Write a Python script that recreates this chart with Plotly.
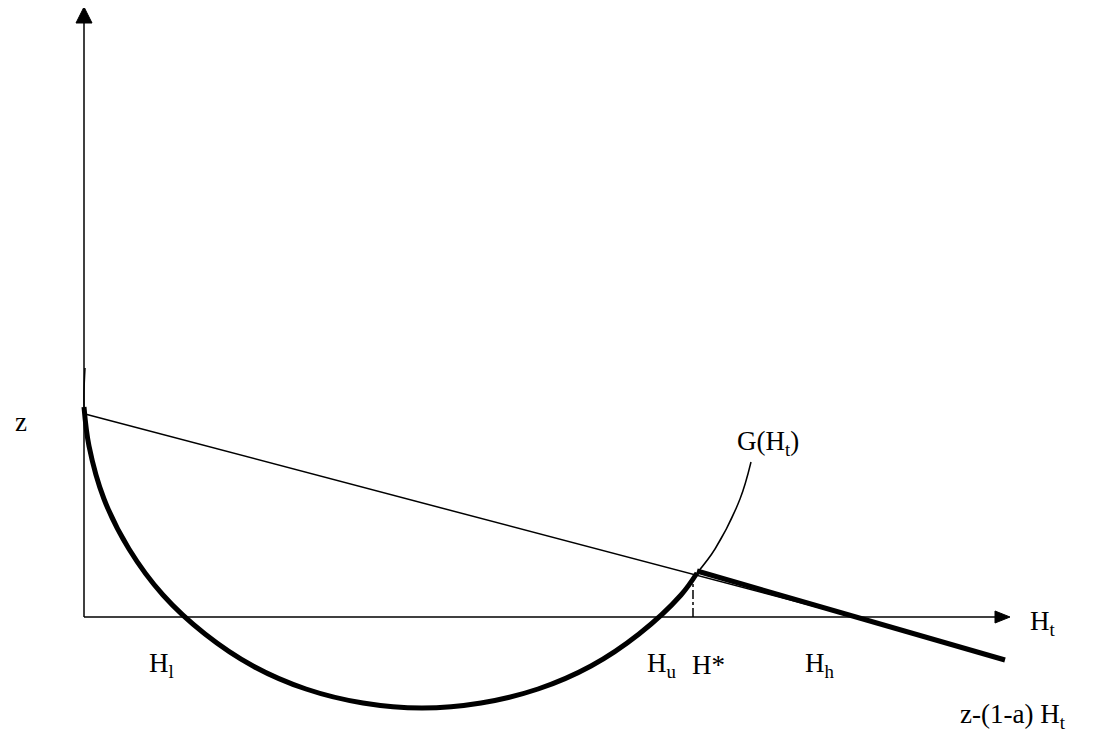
import plotly.graph_objects as go

# diagram units: origin where the two axes meet, 1 unit = 1 px
x_axis_end = 926
y_axis_end = 610

# G(H_t): thin start on the left, thick arc down to H*, thin arc up to the label
g_start_x = [1, 0, 0]
g_start_y = [249, 226, 210]
g_thick_x = [0, 5, 20, 45, 79, 121, 169, 222, 279, 338, 397, 454, 507, 555, 597, 613]
g_thick_y = [210, 171, 118, 68, 22, -17, -49, -72, -86, -91, -86, -72, -49, -17, 22, 44]
g_end_x = [613, 631, 656, 667]
g_end_y = [44, 68, 118, 155]

# line z-(1-a) H_t, thin from z, thick from H*
z_line_x = [1, 771]
z_line_y = [203, 0]
z_thick_x = [613, 921]
z_thick_y = [46, -43]

# H* drop line
h_star_x = [609, 609]
h_star_y = [0, 38]

labels = [
    ("z", -71, 195),
    ("H<sub>l</sub>", 63, -48),
    ("H<sub>u</sub>", 561, -48),
    ("H*", 606, -48),
    ("H<sub>h</sub>", 719, -48),
    ("G(H<sub>t</sub>)", 651, 174),
    ("H<sub>t</sub>", 944, -6),
    ("z-(1-a) H<sub>t</sub>", 874, -99),
]

fig = go.Figure()

def add_line(xs, ys, width, dash="solid", shape="linear"):
    fig.add_trace(go.Scatter(x=xs, y=ys, mode="lines", hoverinfo="skip",
                             line=dict(color="black", width=width, dash=dash, shape=shape)))

# axes
add_line([0, 0], [0, y_axis_end - 14], 1.5)
add_line([0, x_axis_end - 14], [0, 0], 1.5)
fig.add_trace(go.Scatter(x=[-8, 8, 0, -8], y=[y_axis_end - 16, y_axis_end - 16, y_axis_end, y_axis_end - 16],
                         mode="lines", fill="toself", fillcolor="black", line=dict(color="black", width=1),
                         hoverinfo="skip"))
fig.add_trace(go.Scatter(x=[x_axis_end - 15, x_axis_end - 15, x_axis_end, x_axis_end - 15], y=[6, -6, 0, 6],
                         mode="lines", fill="toself", fillcolor="black", line=dict(color="black", width=1),
                         hoverinfo="skip"))

add_line(g_start_x, g_start_y, 1.5, shape="spline")
add_line(g_thick_x, g_thick_y, 5, shape="spline")
add_line(g_end_x, g_end_y, 1.5, shape="spline")
add_line(z_line_x, z_line_y, 1.5)
add_line(z_thick_x, z_thick_y, 5)
add_line(h_star_x, h_star_y, 1.5, dash="dashdot")

for text, x, y in labels:
    fig.add_annotation(x=x, y=y, text=text, showarrow=False, xanchor="left", yanchor="middle",
                       font=dict(family="Liberation Serif", size=27, color="black"))

# the page body adds an 8 px offset, so the ranges are shifted to compensate
fig.update_layout(
    width=1097, height=736,
    margin=dict(l=0, r=0, t=0, b=0),
    paper_bgcolor="white", plot_bgcolor="white",
    showlegend=False,
    xaxis=dict(range=[-76, 1021], visible=False, fixedrange=True),
    yaxis=dict(range=[-127, 609], visible=False, fixedrange=True),
)

fig.write_html("out.html")
